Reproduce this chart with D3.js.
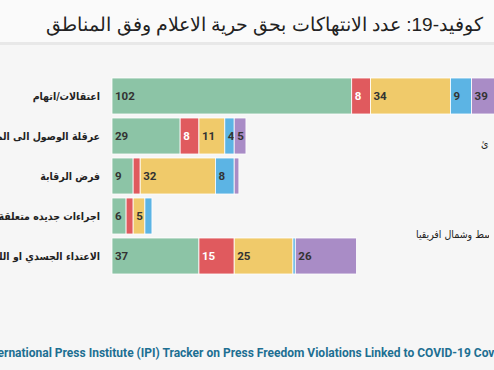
<!DOCTYPE html>
<html>
<head>
<meta charset="utf-8">
<script src="https://cdn.jsdelivr.net/npm/d3@7"></script>
<style>
  body { margin: 0; background: #f6f6f6; overflow: hidden; }
  svg { display: block; }
</style>
</head>
<body>
<div id="chart"></div>
<script>
// categories (violation types)
var categories = [
    "اعتقالات/اتهام",
    "عرقلة الوصول الى المعلومات",
    "فرض الرقابة",
    "اجراءات جديده متعلقة بالطوارئ",
    "الاعتداء الجسدي او اللفظي"
];

// regions (series)
var regions = [
    "آسيا والمحيط الهادئ",
    "أفريقيا",
    "أوروبا وآسيا الوسطى",
    "الأمريكتين",
    "الشرق الأوسط وشمال افريقيا"
];
var colors = ["#8cc4a6", "#e05a5e", "#f0ca6a", "#5cb4e4", "#a98cc6"];

// values per region, in category order
var asia     = [102, 29, 9, 6, 37];
var africa   = [8, 8, 3, 3, 15];
var europe   = [34, 11, 32, 5, 25];
var americas = [9, 4, 8, 3, 1];
var mena     = [39, 5, 2, 0, 26];

var title = "كوفيد-19: عدد الانتهاكات بحق حرية الاعلام وفق المناطق";
var source = "International Press Institute (IPI) Tracker on Press Freedom Violations Linked to COVID-19 Coverage";

var width = 494, height = 370;

var svg = d3.select("#chart").append("svg")
    .attr("width", width)
    .attr("height", height);

svg.append("clipPath").attr("id", "clip")
    .append("rect")
    .attr("x", 0).attr("y", 0)
    .attr("width", 489).attr("height", height);

// title bar
svg.append("rect")
    .attr("x", 0).attr("y", 0)
    .attr("width", width).attr("height", 42)
    .style("fill", "#fafafa");
svg.append("rect")
    .attr("x", 0).attr("y", 42)
    .attr("width", width).attr("height", 3)
    .style("fill", "#e8e8e8");

svg.append("text")
    .attr("x", 483)
    .attr("y", 31)
    .attr("text-anchor", "end")
    .style("font-family", "'Liberation Sans', Arial, sans-serif")
    .style("font-size", "19px")
    .style("fill", "#222")
    .text(title);

var table = categories.map(function (c, i) {
    return { cat: c, vals: [asia[i], africa[i], europe[i], americas[i], mena[i]] };
});

var x = d3.scaleLinear()
    .domain([0, 100])
    .range([112, 347]);

var y = d3.scaleBand()
    .domain(categories)
    .range([76, 276])
    .paddingInner(0.1)
    .paddingOuter(0.05);

// category labels
svg.append("g")
    .selectAll("text")
    .data(categories)
    .enter().append("text")
    .attr("x", 100)
    .attr("y", function (d) { return y(d) + y.bandwidth() / 2 + 4; })
    .attr("text-anchor", "end")
    .style("font-family", "'DejaVu Sans Condensed', 'DejaVu Sans', sans-serif")
    .style("font-size", "10.5px")
    .style("font-weight", "bold")
    .style("fill", "#222")
    .text(function (d) { return d; });

var rows = svg.append("g")
    .selectAll("g")
    .data(table)
    .enter().append("g");

rows.each(function (d) {
    var g = d3.select(this);
    var start = 0;
    d.vals.forEach(function (v, k) {
        if (v > 0) {
            g.append("rect")
                .attr("x", x(start))
                .attr("y", y(d.cat))
                .attr("width", x(start + v) - x(start))
                .attr("height", y.bandwidth())
                .style("fill", colors[k])
                .style("stroke", "#ffffff")
                .style("stroke-width", 0.8);
            if (v >= 4) {
                g.append("text")
                    .attr("x", x(start) + 3)
                    .attr("y", y(d.cat) + y.bandwidth() / 2 + 4)
                    .style("font-family", "Roboto, sans-serif")
                    .style("font-size", "11.5px")
                    .style("font-weight", "bold")
                    .style("fill", k == 1 ? "#ffffff" : "#333")
                    .text(v);
            }
        }
        start += v;
    });
});

// legend, mostly outside the visible area
var legendX = [481, 540, 540, 540, 416];
svg.append("g")
    .attr("clip-path", "url(#clip)")
    .selectAll("text")
    .data(regions)
    .enter().append("text")
    .attr("x", function (d, i) { return legendX[i]; })
    .attr("y", function (d, i) { return 147 + i * 22.75; })
    .style("font-family", "'DejaVu Sans Condensed', 'DejaVu Sans', sans-serif")
    .style("font-size", "10.5px")
    .style("fill", "#222")
    .text(function (d) { return d; });

svg.append("text")
    .attr("x", 254)
    .attr("y", 357)
    .attr("text-anchor", "middle")
    .style("font-family", "Roboto, sans-serif")
    .style("font-size", "12px")
    .style("font-weight", "bold")
    .style("fill", "#1d6f92")
    .text(source);
</script>
</body>
</html>
